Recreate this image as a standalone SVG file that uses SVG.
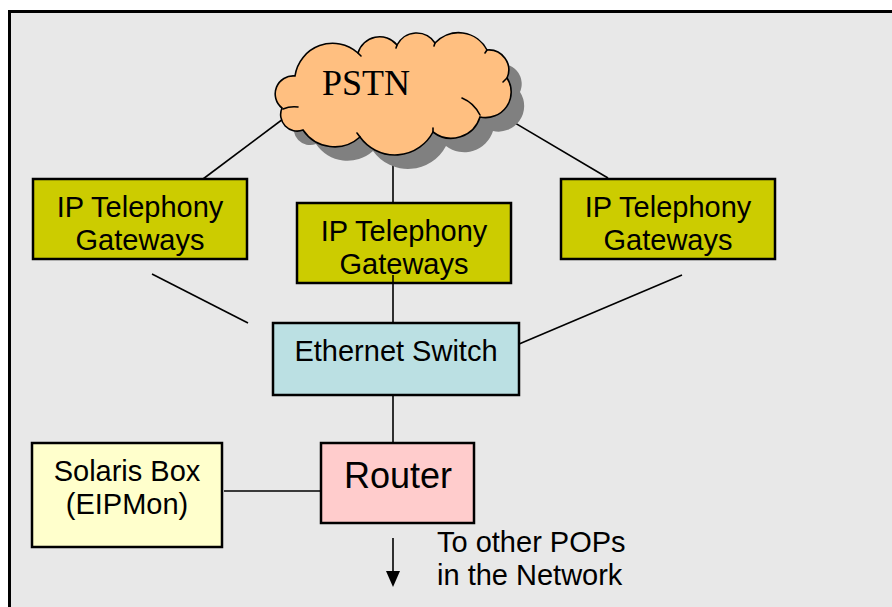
<svg xmlns="http://www.w3.org/2000/svg" width="892" height="607" viewBox="0 0 892 607">
  <style>
    .box { stroke: #000; stroke-width: 2.5; }
    .gw { fill: #cccc00; }
    .sw { fill: #bbe0e3; }
    .rt { fill: #ffcccc; }
    .sol { fill: #ffffcc; }
    .lbl { font-family: "Liberation Sans", Arial, sans-serif; font-size: 29px; fill: #000; text-anchor: middle; }
    .big { font-size: 36px; }
    .left { text-anchor: start; }
    .wire { stroke: #000; stroke-width: 1.6; fill: none; }
    .tick { stroke: #000; stroke-width: 1.6; fill: none; stroke-linecap: round; }
  </style>
  <defs>
    <path id="cloudShape" d="M282,108 A18,18 0 0 1 295,76 A38,38 0 0 1 358,53 A22.5,22.5 0 0 1 397,45 A22,22 0 0 1 435,43 A32,32 0 0 1 487,50 A20,20 0 0 1 507,78 A25.6,25.6 0 0 1 480,117 A30,30 0 0 1 433,132 A43,43 0 0 1 360,137 A38,38 0 0 1 303,130 A16.5,16.5 0 0 1 282,108 Z"/>
    <marker id="arrowHead" viewBox="0 0 16 14" refX="2" refY="7" markerWidth="16" markerHeight="14" markerUnits="userSpaceOnUse" orient="auto">
      <path d="M0,0 L16,7 L0,14 Z" fill="#000"/>
    </marker>
  </defs>

  <!-- page frame -->
  <rect x="9.5" y="11.5" width="900" height="620" fill="#e8e8e8" stroke="#000" stroke-width="3"/>

  <!-- connectors -->
  <g id="connectors">
    <line class="wire" x1="203" y1="179" x2="299" y2="107"/>
    <line class="wire" x1="488" y1="107" x2="608" y2="178"/>
    <line class="wire" x1="393" y1="154" x2="393" y2="203"/>
    <line class="wire" x1="152" y1="274" x2="248" y2="323"/>
    <line class="wire" x1="682" y1="275" x2="512" y2="347"/>
    <line class="wire" x1="393" y1="395" x2="393" y2="443"/>
    <line class="wire" x1="224" y1="491" x2="321" y2="491"/>
    <line class="wire" x1="393" y1="538" x2="393" y2="573" marker-end="url(#arrowHead)"/>
  </g>

  <!-- PSTN cloud -->
  <g id="pstn">
    <use href="#cloudShape" transform="translate(13,14)" fill="#808080"/>
    <use href="#cloudShape" fill="#ffbf80" stroke="#000" stroke-width="1.6"/>
    <path class="tick" d="M298,107 Q290,106 283,109"/>
    <path class="tick" d="M462,98 Q474,103 480,115"/>
    <path class="tick" d="M358,53 L361,56"/>
    <path class="tick" d="M397,45 L396,48"/>
    <path class="tick" d="M435,43 L434,46"/>
    <path class="tick" d="M487,50 L485,53"/>
    <path class="tick" d="M507,78 L503,82"/>
    <path class="tick" d="M433,132 L433,128"/>
    <path class="tick" d="M360,137 L357,133"/>
    <text x="366" y="95" font-family="'Liberation Serif', 'Times New Roman', serif" font-size="36" text-anchor="middle">PSTN</text>
  </g>

  <g id="gateway-left">
    <rect class="box gw" x="33" y="179" width="214" height="80"/>
    <text class="lbl" x="140" y="217">IP Telephony</text>
    <text class="lbl" x="140" y="250">Gateways</text>
  </g>

  <g id="gateway-middle">
    <rect class="box gw" x="297" y="203" width="214" height="80"/>
    <text class="lbl" x="404" y="241">IP Telephony</text>
    <text class="lbl" x="404" y="274">Gateways</text>
    <line class="wire" x1="393" y1="275" x2="393" y2="323"/>
  </g>

  <g id="gateway-right">
    <rect class="box gw" x="561" y="179" width="214" height="80"/>
    <text class="lbl" x="668" y="217">IP Telephony</text>
    <text class="lbl" x="668" y="250">Gateways</text>
  </g>

  <g id="ethernet-switch">
    <rect class="box sw" x="273" y="323" width="246" height="72"/>
    <text class="lbl" x="396" y="361">Ethernet Switch</text>
  </g>

  <g id="router">
    <rect class="box rt" x="321" y="443" width="153" height="80"/>
    <text class="lbl big" x="398" y="488">Router</text>
  </g>

  <g id="solaris-box">
    <rect class="box sol" x="32" y="443" width="190" height="104"/>
    <text class="lbl" x="127" y="481">Solaris Box</text>
    <text class="lbl" x="127" y="514">(EIPMon)</text>
  </g>

  <g id="pop-note">
    <text class="lbl left" x="437" y="552">To other POPs</text>
    <text class="lbl left" x="437" y="585">in the Network</text>
  </g>
</svg>
